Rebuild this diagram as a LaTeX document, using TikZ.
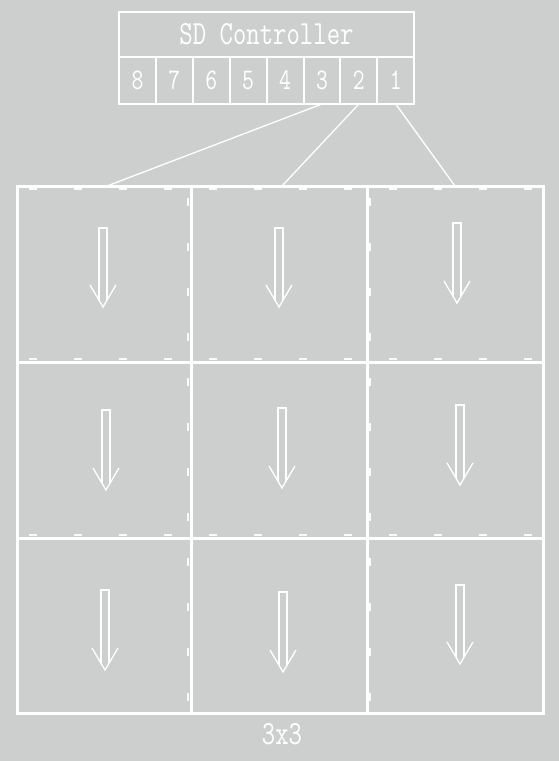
\documentclass[tikz,border=0pt]{standalone}
\usepackage{graphicx}
\usetikzlibrary{positioning}
\definecolor{panelgrey}{RGB}{205,207,206}
\def\talltext#1{\scalebox{1}[1.3]{#1}}
\def\cellarrow(#1,#2,#3){\draw[arrowline] ({#1-13},{#3-22}) -- (#1,#3) -- ({#1+13},{#3-22});
	\draw[arrowline] ({#1-4},{#3-7}) -- ({#1-4},#2) -- ({#1+4},#2) -- ({#1+4},{#3-7});}

\begin{document}
\begin{tikzpicture}[x=1pt,y=-1pt,
		every node/.style={text=white,font=\ttfamily},
		port/.style={draw=white,line width=2pt,outer sep=0pt,minimum width=36.9pt,minimum height=47pt,inner sep=0pt,font=\ttfamily\fontsize{23}{23}\selectfont},
		grid/.style={draw=white,line width=3pt},
		celldash/.style={draw=white!90!panelgrey,line width=2.5pt,dash pattern=on 8pt off 37pt,dash phase=36pt},
		arrowline/.style={draw=white,line width=1.3pt},
		link/.style={draw=white,line width=1.3pt}]
	\fill[panelgrey] (0,0) rectangle (559,761);
	\useasboundingbox (0,0) rectangle (559,761);
	
	% controller
	\node[draw=white,line width=2pt,outer sep=0pt,minimum width=295pt,minimum height=45pt,font=\ttfamily\fontsize{26}{26}\selectfont] (ctrl) at (266.5,34.5) {\talltext{SD Controller}};
	\node[port,anchor=north west] (p8) at (ctrl.south west) {\talltext{8}};
	\node[port,right=0pt of p8] (p7) {\talltext{7}};
	\node[port,right=0pt of p7] (p6) {\talltext{6}};
	\node[port,right=0pt of p6] (p5) {\talltext{5}};
	\node[port,right=0pt of p5] (p4) {\talltext{4}};
	\node[port,right=0pt of p4] (p3) {\talltext{3}};
	\node[port,right=0pt of p3] (p2) {\talltext{2}};
	\node[port,right=0pt of p2] (p1) {\talltext{1}};
	
	\coordinate (t3) at (107,186);
	\coordinate (t2) at (282,186);
	\coordinate (t1) at (455,186);
	\draw[link] (p3.south) -- (t3);
	\draw[link] (p2.south) -- (t2);
	\draw[link] (p1.south) -- (t1);
	
	% 3x3 panels
	\draw[celldash] (20,189) -- (540,189);
	\draw[celldash] (20,359) -- (540,359);
	\draw[celldash] (20,535) -- (540,535);
	\draw[celldash] (188,189) -- (188,710);
	\draw[celldash] (370,189) -- (370,710);
	
	\draw[grid] (17,186) rectangle (543,713);
	\draw[grid] (191,186) -- (191,713);
	\draw[grid] (367,186) -- (367,713);
	\draw[grid] (17,362) -- (543,362);
	\draw[grid] (17,538) -- (543,538);
	
	\cellarrow(103,228,307)
	\cellarrow(279,228,307)
	\cellarrow(457,223,303)
	\cellarrow(106,410,490)
	\cellarrow(282,408,488)
	\cellarrow(460,405,485)
	\cellarrow(105,590,670)
	\cellarrow(283,592,672)
	\cellarrow(460,585,664)
	
	\node[font=\ttfamily\fontsize{26}{26}\selectfont] (size) at (282,734) {\talltext{3x3}};
\end{tikzpicture}
\end{document}
